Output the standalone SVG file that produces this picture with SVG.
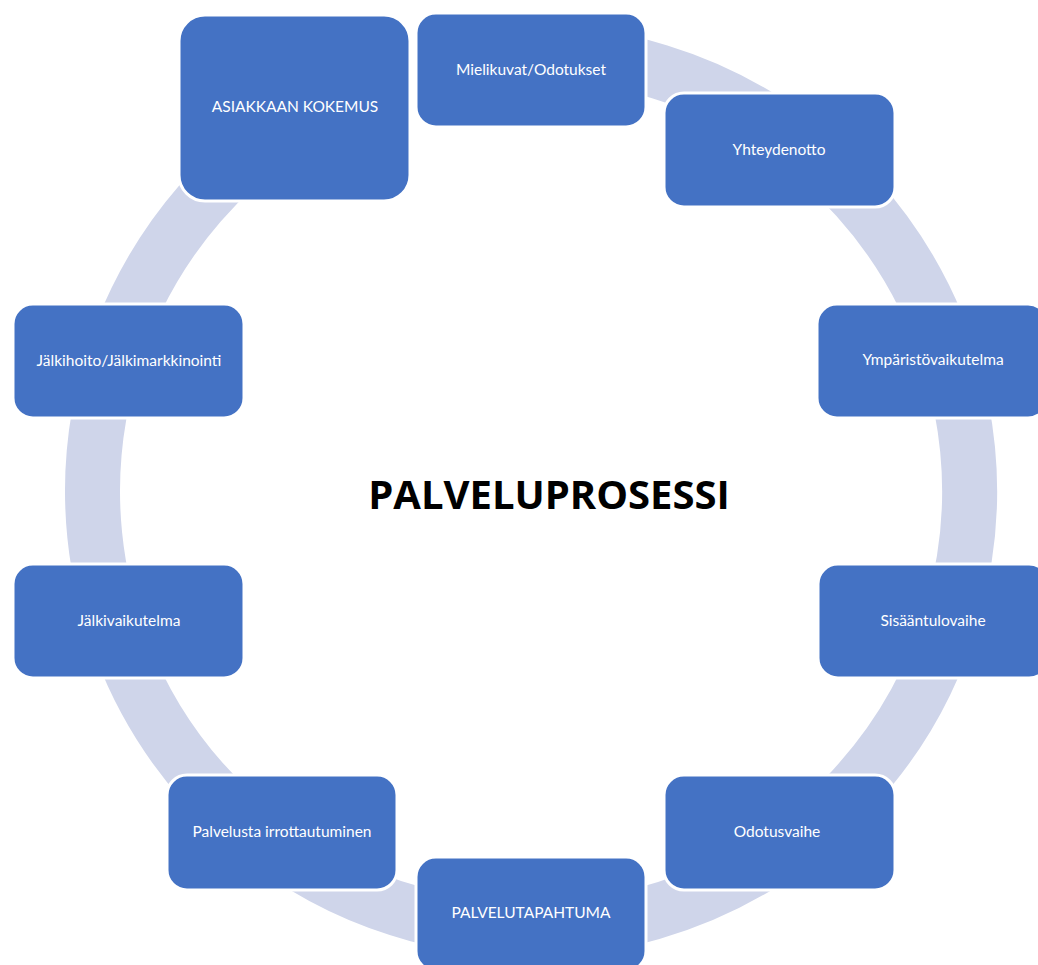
<svg xmlns="http://www.w3.org/2000/svg" width="1038" height="965" viewBox="0 0 1038 965">
  <style>
    .ring { fill: none; stroke: #CFD5EA; stroke-width: 55; }
    .node rect { fill: #4472C4; stroke: #FFFFFF; stroke-width: 3; }
    .node text { fill: #FFFFFF; font-family: Lato, "Open Sans", "Liberation Sans", sans-serif; font-size: 15.5px; text-anchor: middle; }
    .title { fill: #000000; font-family: "Open Sans", Lato, "Liberation Sans", sans-serif; font-weight: bold; font-size: 40px; text-anchor: middle; }
  </style>
  <rect width="1038" height="965" fill="#FFFFFF"/>

  <!-- cycle ring behind the steps, open between the first two boxes -->
  <g id="connectors">
    <path class="ring" d="M 454.85 59.16 A 438.5 438.5 0 1 1 366.73 84.43"/>
  </g>

  <text class="title" x="549" y="509">PALVELUPROSESSI</text>

  <g id="node-asiakkaan-kokemus" class="node">
    <rect x="179" y="15" width="231" height="186" rx="26"/>
    <text x="295" y="112">ASIAKKAAN KOKEMUS</text>
  </g>
  <g id="node-mielikuvat" class="node">
    <rect x="416" y="13" width="230" height="114" rx="20"/>
    <text x="531" y="75">Mielikuvat/Odotukset</text>
  </g>
  <g id="node-yhteydenotto" class="node">
    <rect x="664" y="93" width="231" height="114" rx="20"/>
    <text x="779" y="155">Yhteydenotto</text>
  </g>
  <g id="node-ymparistovaikutelma" class="node">
    <rect x="817" y="304" width="231" height="114" rx="20"/>
    <text x="933" y="365">Ympäristövaikutelma</text>
  </g>
  <g id="node-sisaantulovaihe" class="node">
    <rect x="818" y="564" width="231" height="114" rx="20"/>
    <text x="933" y="626">Sisääntulovaihe</text>
  </g>
  <g id="node-odotusvaihe" class="node">
    <rect x="664" y="775" width="231" height="115" rx="20"/>
    <text x="777" y="837">Odotusvaihe</text>
  </g>
  <g id="node-palvelutapahtuma" class="node">
    <rect x="416" y="857" width="230" height="114" rx="20"/>
    <text x="531" y="918">PALVELUTAPAHTUMA</text>
  </g>
  <g id="node-palvelusta-irrottautuminen" class="node">
    <rect x="167" y="775" width="230" height="115" rx="20"/>
    <text x="282" y="837">Palvelusta irrottautuminen</text>
  </g>
  <g id="node-jalkivaikutelma" class="node">
    <rect x="13" y="564" width="231" height="114" rx="20"/>
    <text x="129" y="626">Jälkivaikutelma</text>
  </g>
  <g id="node-jalkihoito" class="node">
    <rect x="13" y="304" width="231" height="114" rx="20"/>
    <text x="129" y="366">Jälkihoito/Jälkimarkkinointi</text>
  </g>
</svg>
